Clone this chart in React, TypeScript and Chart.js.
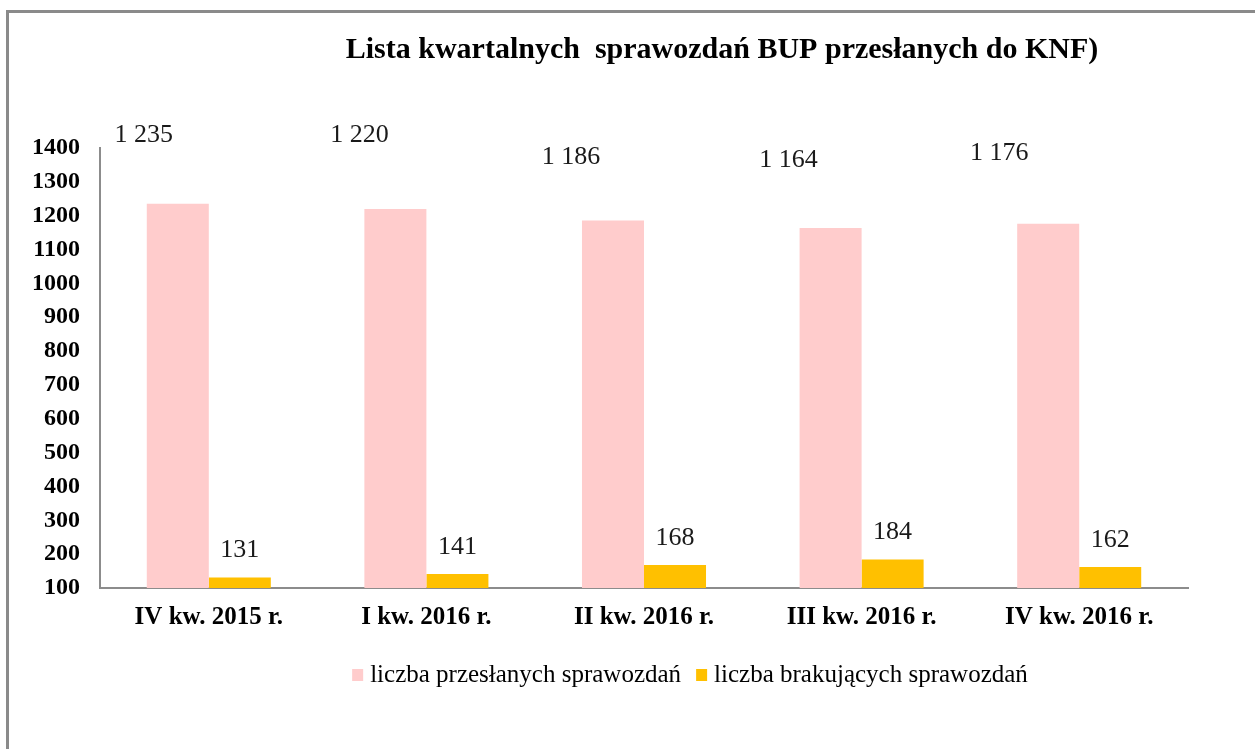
import React, { useEffect, useRef } from "react";
import { Chart, registerables } from "chart.js";

Chart.register(...registerables);

const categories = ["IV kw. 2015 r.", "I kw. 2016 r.", "II kw. 2016 r.", "III kw. 2016 r.", "IV kw. 2016 r."];
const sentReports = [1235, 1220, 1186, 1164, 1176];
const missingReports = [131, 141, 168, 184, 162];
const seriesNames = ["liczba przesłanych sprawozdań", "liczba brakujących sprawozdań"];
const titleText = "Lista kwartalnych  sprawozdań BUP przesłanych do KNF)";
const yMin = 100;
const yMax = 1400;
const yStep = 100;

// small text nudges for the value labels of the first series (as in the original)
const sentLabelDx = [-34, -36, -42, -42, -49];
const sentLabelDy = [-69, -74, -63, -68, -71];

const PINK = "#FFCCCC";
const GOLD = "#FFC000";
const SERIF = "'Liberation Serif', 'Times New Roman', serif";

const fmt = (n: number) => {
  const s = String(n);
  return s.replace(/\B(?=(\d{3})+(?!\d))/g, " ");
};

const decorPlugin = {
  id: "decor",
  beforeDraw(chart: any) {
    const ctx = chart.ctx;
    ctx.save();
    ctx.fillStyle = "#ffffff";
    ctx.fillRect(0, 0, chart.width, chart.height);
    ctx.strokeStyle = "#8a8a8a";
    ctx.lineWidth = 3;
    ctx.strokeRect(7.5, 11.5, chart.width + 40, chart.height + 40);
    ctx.restore();
  },
  afterDraw(chart: any) {
    const ctx = chart.ctx;
    ctx.save();
    // title
    ctx.fillStyle = "#000";
    ctx.font = `bold 30px ${SERIF}`;
    ctx.textAlign = "center";
    ctx.textBaseline = "alphabetic";
    ctx.fillText(titleText, 722, 58);
    // legend
    ctx.font = `25px ${SERIF}`;
    ctx.textBaseline = "middle";
    ctx.textAlign = "left";
    const colors = [PINK, GOLD];
    const w0 = ctx.measureText(seriesNames[0]).width;
    const w1 = ctx.measureText(seriesNames[1]).width;
    const box = 11;
    const gap = 7;
    const between = 15;
    const total = box + gap + w0 + between + box + gap + w1;
    let x = 690 - total / 2;
    const y = 675;
    [w0, w1].forEach((w, i) => {
      ctx.fillStyle = colors[i];
      ctx.fillRect(x, y - 6, box, 12);
      x += box + gap;
      ctx.fillStyle = "#000";
      ctx.fillText(seriesNames[i], x, y);
      x += w + between;
    });
    ctx.restore();
  },
  afterDatasetsDraw(chart: any) {
    const ctx = chart.ctx;
    ctx.save();
    ctx.font = `26px ${SERIF}`;
    ctx.fillStyle = "#1a1a1a";
    ctx.textAlign = "center";
    ctx.textBaseline = "middle";
    const m0 = chart.getDatasetMeta(0);
    m0.data.forEach((el: any, i: number) => {
      ctx.fillText(fmt(sentReports[i]), el.x + sentLabelDx[i], el.y + sentLabelDy[i]);
    });
    const m1 = chart.getDatasetMeta(1);
    m1.data.forEach((el: any, i: number) => {
      ctx.fillText(fmt(missingReports[i]), el.x, el.y - 27);
    });
    ctx.restore();
  },
};

export default function App() {
  const ref = useRef<HTMLCanvasElement | null>(null);
  useEffect(() => {
    if (!ref.current) return;
    const chart = new Chart(ref.current, {
      type: "bar",
      data: {
        labels: categories,
        datasets: [
          { label: seriesNames[0], data: sentReports, backgroundColor: PINK, categoryPercentage: 0.57, barPercentage: 1 },
          { label: seriesNames[1], data: missingReports, backgroundColor: GOLD, categoryPercentage: 0.57, barPercentage: 1 },
        ],
      },
      options: {
        responsive: false,
        animation: false,
        devicePixelRatio: 1,
        layout: { padding: { left: 0, top: 148, right: 67, bottom: 0 } },
        plugins: {
          legend: { display: false },
          title: { display: false },
          tooltip: { enabled: false },
        },
        scales: {
          x: {
            grid: { display: false, drawTicks: false },
            border: { display: true, color: "#8c8c8c", width: 2 },
            ticks: {
              color: "#000",
              font: { family: SERIF, size: 25, weight: "bold" },
              padding: 15,
              maxRotation: 0,
            },
            afterFit(scale: any) {
              scale.height = 161;
            },
          },
          y: {
            min: yMin,
            max: yMax,
            grid: { display: false, drawTicks: false },
            border: { display: true, color: "#8c8c8c", width: 2 },
            ticks: {
              stepSize: yStep,
              color: "#000",
              font: { family: SERIF, size: 24, weight: "bold" },
              padding: 20,
              callback: (v: any) => String(v),
            },
            afterFit(scale: any) {
              scale.width = 100;
            },
          },
        },
      },
      plugins: [decorPlugin],
    });
    return () => chart.destroy();
  }, []);
  return (
    <div style={{ position: "fixed", left: 0, top: 0, width: 1255, height: 749, background: "#fff" }}>
      <canvas ref={ref} width={1255} height={749} style={{ display: "block" }} />
    </div>
  );
}
